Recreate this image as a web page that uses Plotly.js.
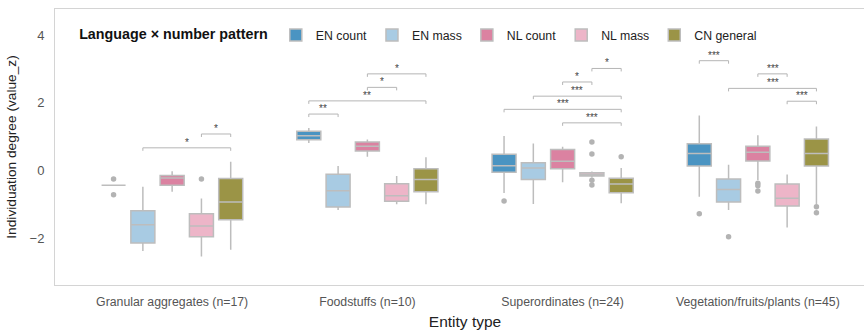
<!DOCTYPE html>
<html>
<head>
<meta charset="utf-8">
<script src="https://cdn.plot.ly/plotly-3.0.1.min.js"></script>
<style>
html, body { margin: 0; padding: 0; overflow: hidden; background: #fff; }
#chart { width: 876px; height: 332px; }
</style>
</head>
<body>
<div id="chart"></div>
<script>
// ---- data ----
const categories = ["Granular aggregates (n=17)", "Foodstuffs (n=10)", "Superordinates (n=24)", "Vegetation/fruits/plants (n=45)"];
const seriesNames = ["EN count", "EN mass", "NL count", "NL mass", "CN general"];

// [series][category]
const lowerWhisker = [
  [-0.44, 0.81, -0.67, -0.78],
  [-2.38, -1.17, -0.99, -1.17],
  [-0.63, 0.41, -0.35, -0.28],
  [-2.55, -1.00, -0.21, -1.69],
  [-2.35, -1.00, -0.97, -1.00]
];
const q1 = [
  [-0.44, 0.91, -0.05, 0.13],
  [-2.15, -1.08, -0.27, -0.93],
  [-0.44, 0.58, 0.05, 0.28],
  [-1.96, -0.91, -0.16, -1.05],
  [-1.46, -0.63, -0.66, 0.13]
];
const medians = [
  [-0.44, 1.03, 0.14, 0.50],
  [-1.61, -0.60, 0.07, -0.56],
  [-0.22, 0.72, 0.27, 0.54],
  [-1.64, -0.75, -0.12, -0.82],
  [-0.93, -0.27, -0.40, 0.50]
];
const q3 = [
  [-0.44, 1.16, 0.48, 0.79],
  [-1.19, -0.11, 0.23, -0.25],
  [-0.15, 0.84, 0.62, 0.72],
  [-1.28, -0.39, -0.07, -0.40],
  [-0.24, 0.05, -0.23, 0.93]
];
const upperWhisker = [
  [-0.44, 1.26, 1.02, 1.63],
  [-0.48, 0.13, 0.80, 0.17],
  [-0.02, 0.92, 0.70, 1.04],
  [-0.83, -0.16, -0.03, -0.12],
  [0.26, 0.39, 0.07, 1.30]
];

// outliers
const outlierSeries = [0, 0, 3, 0, 3, 3, 3, 3, 4, 0, 1, 2, 2, 2, 4, 4];
const outlierCat    = [0, 0, 0, 2, 2, 2, 2, 2, 2, 3, 3, 3, 3, 3, 3, 3];
const outlierValue  = [-0.25, -0.72, -0.25, -0.90, 0.84, 0.49, -0.29, -0.43, 0.41, -1.28, -1.96, -0.38, -0.45, -0.61, -1.07, -1.25];

// significance brackets
const bracketCat   = [0, 0, 1, 1, 1, 1, 2, 2, 2, 2, 2, 3, 3, 3, 3];
const bracketFrom  = [1, 3, 0, 0, 2, 2, 2, 0, 1, 2, 3, 3, 1, 2, 0];
const bracketTo    = [4, 4, 1, 4, 3, 4, 4, 4, 4, 3, 4, 4, 4, 3, 1];
const bracketY     = [0.67, 1.08, 1.67, 2.06, 2.46, 2.86, 1.41, 1.81, 2.20, 2.62, 3.02, 2.05, 2.43, 2.86, 3.25];
const bracketLabel = ["*", "*", "**", "**", "*", "*", "***", "***", "***", "*", "*", "***", "***", "***", "***"];

// ---- styling ----
const colors = ["#4A94C2", "#A8CBE3", "#DB82A1", "#EDB5C8", "#9B9446"];
const dodge = 0.15;
const boxWidth = 0.123;
const greyLine = "#bdbdbd";
const FONT = "Liberation Sans, Arial, sans-serif";

function xpos(cat, s) { return cat + (s - 2) * dodge; }

const traces = [];
seriesNames.forEach((name, s) => {
  traces.push({
    type: "box",
    name: name,
    x: categories.map((c, i) => xpos(i, s)),
    q1: q1[s],
    median: medians[s],
    q3: q3[s],
    lowerfence: lowerWhisker[s],
    upperfence: upperWhisker[s],
    width: boxWidth,
    whiskerwidth: 0,
    fillcolor: colors[s],
    line: { color: greyLine, width: 1.5 },
    boxpoints: false,
    hoverinfo: "skip",
    legendgroup: name
  });
});
seriesNames.forEach((name, s) => {
  const xs = [], ys = [];
  outlierValue.forEach((v, k) => {
    if (outlierSeries[k] === s) { xs.push(xpos(outlierCat[k], s)); ys.push(v); }
  });
  traces.push({
    type: "scatter", mode: "markers", x: xs, y: ys,
    marker: { color: "#b3b3b3", size: 5.5 },
    showlegend: false, hoverinfo: "skip", legendgroup: name
  });
});

const tickPx = 3 / 33.8;
const shapes = [];
const annotations = [];
bracketY.forEach((y, k) => {
  const x1 = xpos(bracketCat[k], bracketFrom[k]);
  const x2 = xpos(bracketCat[k], bracketTo[k]);
  shapes.push({
    type: "path", xref: "x", yref: "y",
    path: `M ${x1} ${y - tickPx} L ${x1} ${y} L ${x2} ${y} L ${x2} ${y - tickPx}`,
    line: { color: "#b5b5b5", width: 1 }
  });
  annotations.push({
    x: (x1 + x2) / 2, y: y, xref: "x", yref: "y",
    text: bracketLabel[k], showarrow: false, yanchor: "bottom", yshift: -2,
    font: { family: FONT, size: 10, color: "#444444" }
  });
});

const layout = {
  width: 876, height: 332,
  margin: { l: 55, r: 1, t: 9, b: 47 },
  paper_bgcolor: "#fff", plot_bgcolor: "#fff",
  font: { family: FONT, color: "#333" },
  boxmode: "overlay",
  showlegend: true,
  legend: {
    orientation: "h", x: 0.027, xanchor: "left", y: 0.906, yanchor: "middle",
    bgcolor: "rgba(0,0,0,0)", borderwidth: 0,
    font: { family: FONT, size: 12.3, color: "#222" },
    title: { text: "<b>Language × number pattern</b>", side: "left", font: { family: FONT, size: 14.3, color: "#111" } },
    itemwidth: 30, tracegroupgap: 0
  },
  xaxis: {
    range: [-0.6, 3.6],
    tickvals: categories.map((c, i) => i),
    ticktext: categories,
    showgrid: false, zeroline: false,
    showline: true, mirror: true, linecolor: "#d4d4d4", linewidth: 1,
    ticks: "", ticklabelstandoff: 5,
    tickfont: { family: FONT, size: 12.3, color: "#555" },
    title: { text: "Entity type", font: { family: FONT, size: 15.5, color: "#222" }, standoff: 8 }
  },
  yaxis: {
    range: [-3.39, 4.78],
    tickvals: [-2, 0, 2, 4],
    showgrid: false, zeroline: false,
    showline: true, mirror: true, linecolor: "#d4d4d4", linewidth: 1,
    ticks: "", ticklabelstandoff: 7,
    tickfont: { family: FONT, size: 13, color: "#555" },
    title: { text: "Individuation degree (value_z)", font: { family: FONT, size: 13.7, color: "#222" }, standoff: 9 }
  },
  shapes: shapes,
  annotations: annotations
};

Plotly.newPlot("chart", traces, layout, { displayModeBar: false, staticPlot: true });
</script>
</body>
</html>
